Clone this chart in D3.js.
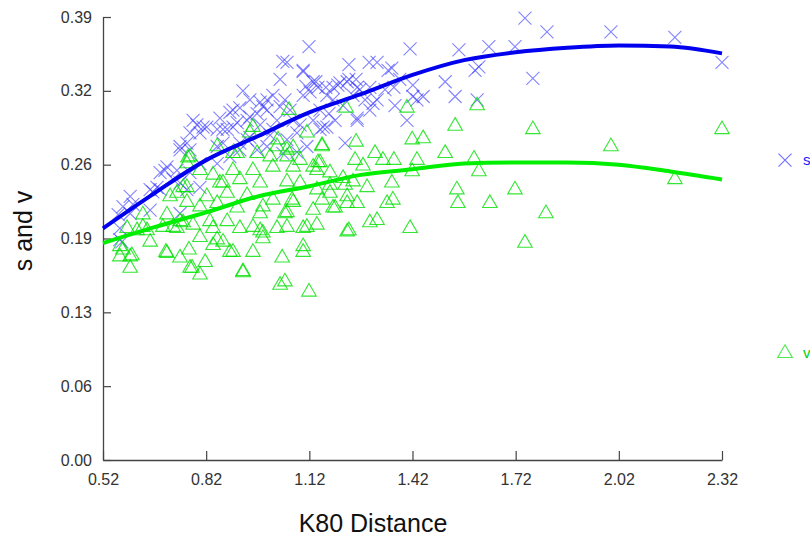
<!DOCTYPE html>
<html>
<head>
<meta charset="utf-8">
<script src="https://cdn.jsdelivr.net/npm/d3@7"></script>
<style>
  body { margin: 0; background: #fff; }
  svg { display: block; font-family: "Liberation Sans", Arial, sans-serif; }
</style>
</head>
<body>
<div id="chart"></div>
<script>
// x ticks (K80 distance) and y ticks (s and v)
const xTicks = [0.52, 0.82, 1.12, 1.42, 1.72, 2.02, 2.32]
const yTicks = [0, 0.065, 0.13, 0.195, 0.26, 0.325, 0.39]
const yTickLabels = ["0.00", "0.06", "0.13", "0.19", "0.26", "0.32", "0.39"]

// s series, [K80 distance, s]
const sPoints = [
  [1.747,0.389],[1.119,0.364],[1.413,0.362],[1.555,0.361],[1.642,0.364],[1.718,0.364],
  [1.043,0.351],[1.235,0.348],[1.294,0.350],[1.317,0.350],[1.349,0.343],[1.360,0.345],
  [1.102,0.343],[1.035,0.335],[1.235,0.335],[1.256,0.335],[1.139,0.333],[1.110,0.329],
  [1.168,0.328],[1.203,0.330],[1.259,0.328],[1.296,0.328],[1.340,0.326],[1.366,0.328],
  [1.421,0.330],[1.515,0.333],[1.544,0.320],[1.602,0.343],[1.613,0.346],[1.770,0.336],
  [1.421,0.320],[1.451,0.320],[1.433,0.317],[1.608,0.317],[1.404,0.299],[1.317,0.317],
  [1.296,0.308],[1.259,0.301],[1.224,0.279],[1.177,0.305],[1.189,0.317],[1.151,0.308],
  [1.131,0.299],[1.160,0.293],[1.811,0.377],[1.997,0.377],[2.183,0.372],[2.320,0.350],
  [1.055,0.350],[1.102,0.342],[0.927,0.325],[0.947,0.317],[0.977,0.315],[0.997,0.317],
  [1.014,0.321],[1.131,0.333],[1.145,0.328],[1.122,0.324],[1.102,0.321],[1.171,0.321],
  [1.189,0.328],[1.209,0.332],[1.230,0.333],[1.247,0.321],[1.267,0.326],[1.305,0.314],
  [1.259,0.299],[1.151,0.291],[1.171,0.293],[0.889,0.306],[0.918,0.310],[0.860,0.301],
  [0.782,0.299],[0.822,0.293],[0.802,0.288],[0.773,0.288],[0.869,0.291],[0.898,0.293],
  [0.939,0.299],[0.744,0.276],[0.764,0.279],[0.706,0.258],[0.852,0.276],[0.968,0.305],
  [0.997,0.308],[1.035,0.311],[1.073,0.299],[1.084,0.288],[1.055,0.282],[1.014,0.291],
  [0.997,0.276],[0.947,0.284],[0.918,0.279],[1.043,0.270],[1.084,0.271],[1.113,0.276],
  [0.599,0.232],[0.578,0.223],[0.657,0.238],[0.686,0.238],[0.700,0.255],[0.657,0.220],
  [0.569,0.194],[0.744,0.273],[0.773,0.273],[0.793,0.295],[0.852,0.291],[0.910,0.297],
  [0.947,0.302],[0.985,0.311],[0.939,0.282],[0.869,0.279],[0.802,0.261],[0.773,0.253],
  [0.724,0.247],[0.686,0.253],[0.852,0.261],[0.889,0.267],[0.918,0.273],[0.968,0.273],
  [0.735,0.255],[0.665,0.236],[0.744,0.244],[0.764,0.238],[0.802,0.240],[0.744,0.217],
  [0.569,0.204],[0.898,0.308],[0.881,0.291],[0.811,0.293],[0.607,0.225],[0.677,0.240],
  [0.599,0.217],[0.575,0.192],[0.564,0.216],[1.093,0.295],[1.064,0.308],[1.026,0.299],
  [0.977,0.295],[1.006,0.286],[1.049,0.317],[1.195,0.299],[1.218,0.312],[1.282,0.317],
  [1.369,0.312],[1.383,0.335]
]

// v series, [K80 distance, v]
const vPoints = [
  [1.227,0.310],[1.404,0.310],[1.608,0.312],[1.544,0.294],[1.770,0.291],[1.256,0.280],
  [1.419,0.282],[1.451,0.283],[1.157,0.276],[1.311,0.270],[1.334,0.264],[1.366,0.264],
  [1.253,0.264],[1.433,0.264],[1.515,0.270],[1.599,0.265],[1.613,0.254],[1.419,0.254],
  [1.276,0.259],[1.145,0.262],[1.142,0.255],[1.360,0.244],[1.549,0.238],[1.718,0.238],
  [1.552,0.226],[1.645,0.226],[1.346,0.226],[1.363,0.229],[1.230,0.226],[1.259,0.226],
  [1.296,0.209],[1.317,0.211],[1.413,0.204],[1.235,0.202],[1.131,0.220],[1.195,0.222],
  [1.180,0.242],[1.224,0.242],[1.247,0.245],[1.288,0.240],[1.113,0.205],[1.142,0.207],
  [1.049,0.217],[1.070,0.229],[1.102,0.188],[1.747,0.191],[1.157,0.229],
  [2.320,0.291],[1.997,0.276],[2.183,0.247],[1.808,0.217],
  [0.599,0.169],[0.599,0.179],[0.569,0.188],[0.569,0.179],[0.657,0.192],[0.703,0.183],
  [0.744,0.178],[0.770,0.185],[0.779,0.169],[0.802,0.163],[0.817,0.174],[0.735,0.204],
  [0.802,0.196],[0.840,0.204],[0.869,0.192],[0.898,0.183],[0.956,0.183],[0.927,0.165],
  [0.985,0.195],[1.041,0.178],[1.035,0.154],[1.049,0.157],[1.102,0.183],[1.119,0.148],
  [1.102,0.204],[1.055,0.205],[1.026,0.204],[0.977,0.202],[0.918,0.204],[0.881,0.210],
  [0.831,0.210],[0.782,0.207],[1.230,0.201],[1.189,0.222],[1.055,0.218],[0.977,0.217],
  [0.910,0.222],[0.852,0.226],[0.802,0.223],[0.764,0.227],[0.822,0.232],[0.881,0.235],
  [0.939,0.233],[1.014,0.229],[1.073,0.227],[1.180,0.235],[1.230,0.232],[1.142,0.238],
  [1.093,0.244],[1.055,0.245],[0.977,0.244],[0.918,0.247],[0.860,0.244],[0.840,0.251],
  [0.898,0.255],[0.956,0.255],[1.014,0.258],[1.073,0.258],[1.131,0.258],[1.151,0.262],
  [1.180,0.253],[1.218,0.248],[1.055,0.267],[0.764,0.261],[0.802,0.255],[0.753,0.240],
  [0.715,0.232],[0.636,0.216],[0.590,0.204],[0.619,0.202],[0.706,0.216],[0.744,0.210],
  [0.578,0.185],[0.706,0.182],[0.927,0.166],[0.889,0.183],[0.852,0.194],[0.636,0.205],
  [0.694,0.205],[0.753,0.209],[0.735,0.235],[0.764,0.240],[0.773,0.267],[0.852,0.276],
  [0.898,0.270],[0.947,0.288],[0.869,0.244],[0.985,0.200],[0.985,0.223],
  [1.061,0.308],[0.956,0.293],[0.767,0.266],[1.113,0.288],[1.029,0.282],[1.073,0.275],
  [1.157,0.277],[0.910,0.270],[0.968,0.270],[1.006,0.267],[1.026,0.276],[1.055,0.273],
  [1.093,0.264],[0.604,0.180],[0.773,0.169],[0.840,0.189],[0.648,0.202],[0.724,0.205],
  [0.956,0.205]
]

// fitted curves
const fitX = [0.52, 0.67, 0.82, 0.97, 1.12, 1.27, 1.42, 1.57, 1.72, 1.87, 2.02, 2.17, 2.32]
const sFit = [0.204, 0.235, 0.264, 0.285, 0.306, 0.322, 0.339, 0.352, 0.359, 0.363, 0.365, 0.364, 0.358]
const vFit = [0.191, 0.205, 0.218, 0.232, 0.241, 0.251, 0.256, 0.261, 0.262, 0.262, 0.260, 0.254, 0.247]

const width = 810, height = 536

const svg = d3.select("#chart").append("svg")
    .attr("width", width)
    .attr("height", height)

const xScale = d3.scaleLinear().domain([0.52, 2.32]).range([103, 722])
const yScale = d3.scaleLinear().domain([0, 0.39]).range([460, 17])

const xaxis = d3.axisBottom(xScale)
    .tickValues(xTicks)
    .tickFormat(d => d.toFixed(2))
    .tickSizeInner(-9)
    .tickSizeOuter(0)
    .tickPadding(14)

const yaxis = d3.axisLeft(yScale)
    .tickValues(yTicks)
    .tickFormat((d, i) => yTickLabels[i])
    .tickSizeInner(-8)
    .tickSizeOuter(0)
    .tickPadding(11)

const gx = svg.append("g")
    .attr("transform", "translate(0,460)")
    .call(xaxis)

const gy = svg.append("g")
    .attr("transform", "translate(103,0)")
    .call(yaxis)

for (const g of [gx, gy]) {
    g.select(".domain").attr("stroke", "#444").attr("stroke-width", 1.3)
    g.selectAll(".tick line").attr("stroke", "#444").attr("stroke-width", 1.2)
    g.selectAll(".tick text")
        .attr("fill", "#333")
        .style("font", "16px 'Liberation Sans', Arial, sans-serif")
}

// axis titles
svg.append("text")
    .attr("text-anchor", "middle")
    .attr("x", 373)
    .attr("y", 532)
    .attr("fill", "#111")
    .style("font-size", "25px")
    .text("K80 Distance")

svg.append("text")
    .attr("text-anchor", "middle")
    .attr("transform", "translate(32,231)rotate(-90)")
    .attr("fill", "#111")
    .style("font-size", "25px")
    .text("s and v")

const crossPath = "M-6.5,-6.5L6.5,6.5M-6.5,6.5L6.5,-6.5"
const triPath = d3.symbol().type(d3.symbolTriangle).size(92)()

// s points
svg.append("g").selectAll("path")
    .data(sPoints)
    .enter()
    .append("path")
    .attr("d", crossPath)
    .attr("transform", d => "translate(" + xScale(d[0]) + "," + yScale(d[1]) + ")")
    .attr("fill", "none")
    .attr("stroke", "#3030ff")
    .attr("stroke-opacity", 0.6)
    .attr("stroke-width", 1.1)

// v points
svg.append("g").selectAll("path")
    .data(vPoints)
    .enter()
    .append("path")
    .attr("d", triPath)
    .attr("transform", d => "translate(" + xScale(d[0]) + "," + yScale(d[1]) + ")")
    .attr("fill", "none")
    .attr("stroke", "#00e000")
    .attr("stroke-opacity", 0.8)
    .attr("stroke-width", 1.1)

const fitLine = (vals) => d3.line()
    .x((d, i) => xScale(fitX[i]))
    .y(d => yScale(d))
    .curve(d3.curveMonotoneX)(vals)

svg.append("path")
    .attr("d", fitLine(sFit))
    .attr("fill", "none")
    .attr("stroke", "#0000ee")
    .attr("stroke-width", 4)

svg.append("path")
    .attr("d", fitLine(vFit))
    .attr("fill", "none")
    .attr("stroke", "#00ee00")
    .attr("stroke-width", 4)

// legend
const legend = [
    { name: "s", y: 0.264, path: crossPath, color: "#3030ff", text: "#2020ff" },
    { name: "v", y: 0.094, path: triPath, color: "#00e000", text: "#00d000" }
]

const lg = svg.append("g").selectAll("g")
    .data(legend)
    .enter()
    .append("g")
    .attr("transform", d => "translate(785," + yScale(d.y) + ")")

lg.append("path")
    .attr("d", d => d.path)
    .attr("fill", "none")
    .attr("stroke", d => d.color)
    .attr("stroke-opacity", 0.7)
    .attr("stroke-width", 1.1)

lg.append("text")
    .attr("x", 18)
    .attr("y", 5)
    .attr("fill", d => d.text)
    .style("font-size", "15px")
    .text(d => d.name)
</script>
</body>
</html>
